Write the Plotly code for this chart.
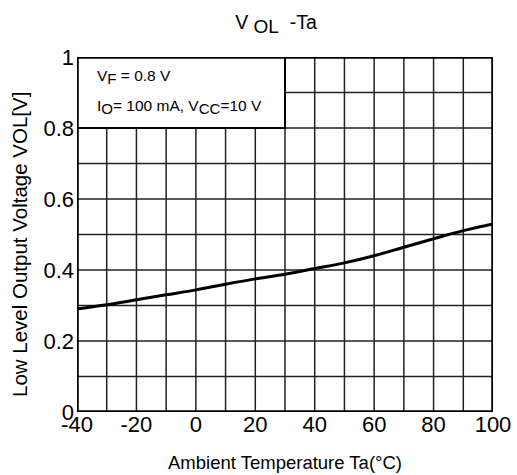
import plotly.graph_objects as go

ta = [-40, -30, -20, -10, 0, 10, 20, 30, 40, 50, 60, 70, 80, 90, 100]
vol = [0.29, 0.302, 0.316, 0.33, 0.344, 0.36, 0.375, 0.388, 0.404, 0.42, 0.44, 0.464, 0.488, 0.511, 0.53]

x_ticks = [-40, -20, 0, 20, 40, 60, 80, 100]
y_ticks = [0, 0.2, 0.4, 0.6, 0.8, 1]
y_tick_text = ["0", "0.2", "0.4", "0.6", "0.8", "1"]

FONT = "Liberation Sans, Arial, sans-serif"
NB = "\u00a0"


def sub(t, size):
    return "<sub><span style='font-size:%dpx'>%s</span></sub>" % (size, t)


fig = go.Figure()
fig.add_trace(go.Scatter(x=ta, y=vol, mode="lines", line=dict(color="black", width=3, shape="spline"),
                         showlegend=False, hoverinfo="skip"))

fig.update_layout(
    width=517, height=475,
    margin=dict(l=77, r=24, t=57, b=63),
    paper_bgcolor="white", plot_bgcolor="white",
    font=dict(family=FONT, color="black"),
    title=dict(text="V" + NB + sub("OL", 19) + NB + NB + "-Ta", x=276 / 517, xanchor="center",
               y=1 - 22 / 475, yanchor="middle",
               font=dict(size=19.5, family=FONT, color="black")),
    xaxis=dict(range=[-40, 100], tickvals=x_ticks, ticktext=[str(v) for v in x_ticks],
               showgrid=False, zeroline=False, showline=False, ticks="", automargin=False,
               tickfont=dict(size=22, family=FONT), ticklabelstandoff=-3,
               title=dict(text="Ambient Temperature Ta(°C)", font=dict(size=18.5, family=FONT), standoff=20)),
    yaxis=dict(range=[0, 1], tickvals=y_ticks, ticktext=y_tick_text,
               showgrid=False, zeroline=False, showline=False, ticks="", automargin=False,
               tickfont=dict(size=22, family=FONT), ticklabelstandoff=2),
)

shapes = []
for gx in range(-30, 100, 10):
    shapes.append(dict(type="line", xref="x", yref="y", x0=gx, x1=gx, y0=0, y1=1,
                       line=dict(color="#222", width=1.5), layer="below"))
for i in range(1, 10):
    gy = i / 10
    shapes.append(dict(type="line", xref="x", yref="y", x0=-40, x1=100, y0=gy, y1=gy,
                       line=dict(color="#222", width=1.5), layer="below"))
shapes.append(dict(type="rect", xref="x", yref="y", x0=-40, x1=30, y0=0.8, y1=1,
                   fillcolor="white", line=dict(color="black", width=2), layer="above"))
shapes.append(dict(type="rect", xref="x", yref="y", x0=-40, x1=100, y0=0, y1=1,
                   fillcolor="rgba(0,0,0,0)", line=dict(color="black", width=3.5), layer="above"))
fig.update_layout(shapes=shapes)

# y-axis title placed as a rotated annotation to match the reference position
fig.add_annotation(x=(19 - 77) / 416, y=(475 - 63 - 245) / 355, xref="paper", yref="paper",
                   text="Low Level Output Voltage VOL[V]", textangle=-90, showarrow=False,
                   xanchor="center", yanchor="middle", font=dict(size=20.5, family=FONT, color="black"))

fig.add_annotation(x=-34, y=0.945, xref="x", yref="y", text="V" + sub("F", 15) + " = 0.8 V", showarrow=False,
                   xanchor="left", yanchor="middle", font=dict(size=15.5, family=FONT, color="black"))
fig.add_annotation(x=-34, y=0.86, xref="x", yref="y",
                   text="I" + sub("O", 15) + "= 100 mA, V" + sub("CC", 15) + "=10 V",
                   showarrow=False, xanchor="left", yanchor="middle", font=dict(size=15.5, family=FONT, color="black"))

fig.write_html("out.html", config={"displayModeBar": False},
               post_script="document.body.style.margin='0px';document.body.style.overflow='hidden';")
